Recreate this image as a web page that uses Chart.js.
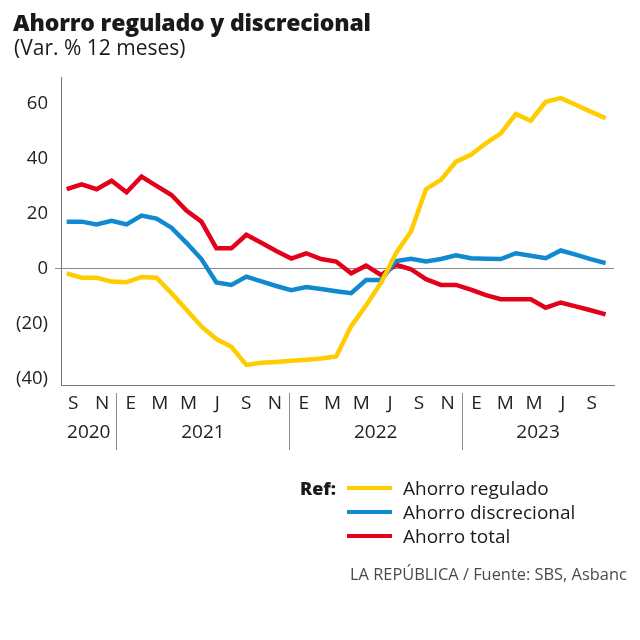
<!DOCTYPE html>
<html>
<head>
<meta charset="utf-8">
<script src="https://cdn.jsdelivr.net/npm/chart.js@4.4.1/dist/chart.umd.min.js"></script>
<style>
  html, body { margin: 0; padding: 0; background: #fff; }
  #wrap { position: relative; width: 640px; height: 640px; overflow: hidden; }
  canvas { position: absolute; left: 0; top: 0; }
  .t { position: absolute; white-space: nowrap; line-height: 1; }
  #title { left: 13px; top: 11px; font-family: "Open Sans", sans-serif; font-weight: 800; font-size: 23px; letter-spacing: -0.2px; color: #1a1a1a; }
  #subtitle { left: 14px; top: 37px; font-family: "Open Sans", sans-serif; font-size: 21px; color: #1a1a1a; }
  #legend { position: absolute; left: 300px; top: 476px; }
  .ref { position: absolute; left: 0; top: 0; font-family: "Open Sans", sans-serif; font-weight: 800; font-size: 18px; color: #1a1a1a; line-height: 24px; }
  .row { position: absolute; left: 47px; height: 24px; }
  .sw { position: absolute; left: 0; top: 10px; width: 45px; height: 4px; }
  .lb { position: absolute; left: 56px; top: 0; font-family: "Open Sans", sans-serif; font-size: 19px; color: #1a1a1a; line-height: 24px; white-space: nowrap; }
  #source { left: 350px; top: 566px; font-family: "Open Sans", sans-serif; font-size: 16.4px; color: #4a4a4a; }
</style>
</head>
<body>
<div id="wrap">
  <canvas id="c" width="640" height="640"></canvas>
  <div class="t" id="title">Ahorro regulado y discrecional</div>
  <div class="t" id="subtitle">(Var. % 12 meses)</div>
  <div id="legend"></div>
  <div class="t" id="source">LA REPÚBLICA / Fuente: SBS, Asbanc</div>
</div>
<script>
// ---- Data (monthly, Sep 2020 .. Sep 2023) ----
const periods = ['2020-09','2020-10','2020-11','2020-12','2021-01','2021-02','2021-03','2021-04','2021-05','2021-06','2021-07','2021-08','2021-09','2021-10','2021-11','2021-12','2022-01','2022-02','2022-03','2022-04','2022-05','2022-06','2022-07','2022-08','2022-09','2022-10','2022-11','2022-12','2023-01','2023-02','2023-03','2023-04','2023-05','2023-06','2023-07','2023-08','2023-09'];
const ahorroRegulado = [-1.6,-3.2,-3.2,-4.6,-4.8,-2.9,-3.2,-8.8,-14.8,-20.9,-25.5,-28.3,-34.9,-34.1,-33.8,-33.4,-33.0,-32.6,-31.8,-20.8,-13.3,-5.0,5.7,13.6,29.0,32.4,39.0,41.5,45.7,49.3,56.3,53.9,60.8,62.1,59.7,57.2,54.8];
const ahorroDiscrecional = [17.2,17.2,16.2,17.5,16.2,19.4,18.3,15.0,9.5,3.6,-4.9,-5.8,-2.8,-4.5,-6.2,-7.7,-6.6,-7.3,-8.1,-8.8,-4.0,-4.0,2.9,3.7,2.7,3.6,5.0,3.9,3.7,3.6,5.7,4.8,3.9,6.7,5.2,3.6,2.1];
const ahorroTotal = [29.0,30.8,29.0,32.1,27.9,33.6,30.2,26.9,21.2,17.2,7.5,7.5,12.4,9.5,6.5,3.8,5.7,3.6,2.7,-1.6,1.2,-2.2,1.5,-0.1,-3.7,-5.8,-5.8,-7.5,-9.5,-11.0,-11.0,-11.0,-14.1,-12.2,-13.6,-15.0,-16.5];
const monthLabels = ['S','N','E','M','M','J','S','N','E','M','M','J','S','N','E','M','M','J','S'];
const yearLabels = ['2020','2021','2022','2023'];
const yTickValues = [-40,-20,0,20,40,60];
const seriesNames = ['Ahorro regulado','Ahorro discrecional','Ahorro total'];
const seriesColors = ['#FFCC00','#1089D0','#E2001A'];

// ---- layout helpers (not data) ----
const labelStart = 0.44, labelStep = 1.924;          // month-label placement in index units
const monthTickValues = monthLabels.map((_, k) => labelStart + k * labelStep);
const sepValues = [1.5, 7.5, 13.5].map(k => labelStart + k * labelStep);
const xMin = -0.38, xMax = 36.56;
const yearSpans = [[xMin, sepValues[0]], [sepValues[0], sepValues[1]], [sepValues[1], sepValues[2]], [sepValues[2], xMax]];
const yearTickValues = yearSpans.map(s => (s[0] + s[1]) / 2);

const allSeries = [ahorroRegulado, ahorroDiscrecional, ahorroTotal];

// HTML legend
const legend = document.getElementById('legend');
const ref = document.createElement('div'); ref.className = 'ref'; ref.textContent = 'Ref:'; legend.appendChild(ref);
seriesNames.forEach((n, i) => {
  const r = document.createElement('div'); r.className = 'row'; r.style.top = (i * 24) + 'px';
  const s = document.createElement('div'); s.className = 'sw'; s.style.background = seriesColors[i];
  const l = document.createElement('div'); l.className = 'lb'; l.textContent = n;
  r.appendChild(s); r.appendChild(l); legend.appendChild(r);
});

const separators = {
  id: 'separators',
  afterDraw(chart) {
    const ctx = chart.ctx, x = chart.scales.x;
    ctx.save();
    ctx.strokeStyle = '#8a8a8a';
    ctx.lineWidth = 1;
    sepValues.forEach(v => {
      const px = Math.round(x.getPixelForValue(v)) + 0.5;
      ctx.beginPath(); ctx.moveTo(px, 393); ctx.lineTo(px, 450); ctx.stroke();
    });
    ctx.restore();
  }
};

const fontTick = { family: '"Open Sans", sans-serif', size: 19 };

new Chart(document.getElementById('c'), {
  type: 'line',
  data: {
    datasets: allSeries.map((arr, i) => ({
      label: seriesNames[i],
      data: arr.map((v, j) => ({ x: j, y: v })),
      borderColor: seriesColors[i],
      backgroundColor: seriesColors[i],
      borderWidth: 4.5,
      pointRadius: 0,
      tension: 0,
      fill: false
    }))
  },
  options: {
    responsive: false,
    animation: false,
    devicePixelRatio: 1,
    layout: { padding: { top: 77, right: 26, left: 0, bottom: 0 } },
    plugins: { legend: { display: false }, title: { display: false }, tooltip: { enabled: false } },
    scales: {
      x: {
        type: 'linear', position: 'bottom', min: xMin, max: xMax,
        grid: { display: false, drawTicks: false },
        border: { display: true, color: '#777', width: 1 },
        afterBuildTicks: s => { s.ticks = monthTickValues.map(v => ({ value: v })); },
        afterFit: s => { s.height = 30; },
        ticks: {
          autoSkip: false, maxRotation: 0, padding: 7, color: '#222', font: fontTick,
          callback: (v, idx) => monthLabels[idx]
        }
      },
      x2: {
        type: 'linear', position: 'bottom', min: xMin, max: xMax,
        grid: { display: false, drawTicks: false },
        border: { display: false },
        afterBuildTicks: s => { s.ticks = yearTickValues.map(v => ({ value: v })); },
        afterFit: s => { s.height = 225; },
        ticks: {
          autoSkip: false, maxRotation: 0, padding: 6, color: '#222', font: fontTick,
          callback: (v, idx) => yearLabels[idx]
        }
      },
      y: {
        type: 'linear', min: -42.2, max: 69.8,
        afterBuildTicks: s => { s.ticks = yTickValues.map(v => ({ value: v })); },
        afterFit: s => { s.width = 61; },
        grid: {
          drawTicks: true, tickLength: 6, lineWidth: 1,
          color: c => (c.tick && c.tick.value === 0) ? '#8a8a8a' : 'rgba(0,0,0,0)'
        },
        border: { display: true, color: '#777', width: 1 },
        ticks: {
          padding: 7, color: '#222', font: { family: '"Open Sans", sans-serif', size: 18.5 },
          callback: v => v < 0 ? '(' + Math.abs(v) + ')' : String(v)
        }
      }
    }
  },
  plugins: [separators]
});
</script>
</body>
</html>
